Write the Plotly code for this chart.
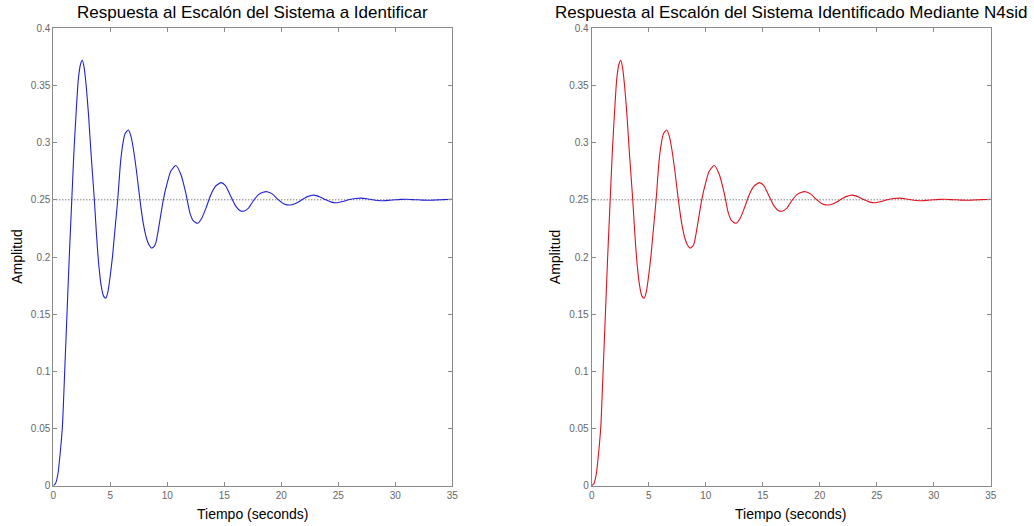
import plotly.graph_objects as go

# ---- data ----
tiempo = [0.0, 0.2, 0.4, 0.6, 0.8, 1.0, 1.2, 1.4, 1.6, 1.8, 2.0, 2.2, 2.4, 2.54, 2.7, 2.9,
          3.1, 3.3, 3.6, 3.8, 4.0, 4.2, 4.4, 4.6, 4.8, 5.0, 5.2, 5.4, 5.65, 5.9, 6.1, 6.3,
          6.58, 6.8, 7.0, 7.3, 7.6, 7.9, 8.2, 8.4, 8.63, 8.85, 9.0, 9.3, 9.65, 10.0, 10.3,
          10.75, 11.2, 11.6, 12.0, 12.3, 12.65, 13.0, 13.4, 13.8, 14.2, 14.7, 15.1, 15.5,
          16.0, 16.4, 16.75, 17.1, 17.5, 18.0, 18.4, 18.75, 19.2, 19.75, 20.3, 20.8, 21.3,
          21.8, 22.3, 22.85, 23.4, 23.9, 24.4, 24.9, 25.4, 25.9, 26.5, 27.0, 27.5, 28.0,
          28.5, 29.0, 29.5, 30.0, 30.5, 31.0, 31.5, 32.0, 32.5, 33.0, 33.5, 34.0, 34.5, 35.0]
amplitud = [0.0, 0.002, 0.01, 0.028, 0.052, 0.1, 0.15, 0.2, 0.245, 0.29, 0.326, 0.356,
            0.369, 0.372, 0.366, 0.348, 0.323, 0.292, 0.25, 0.218, 0.192, 0.175, 0.166,
            0.164, 0.17, 0.184, 0.201, 0.223, 0.25, 0.283, 0.299, 0.308, 0.311, 0.306,
            0.296, 0.275, 0.25, 0.229, 0.2155, 0.2105, 0.2078, 0.2092, 0.2125, 0.229, 0.25,
            0.265, 0.275, 0.28, 0.272, 0.257, 0.238, 0.2315, 0.2295, 0.2335, 0.243, 0.254,
            0.2615, 0.265, 0.2625, 0.2545, 0.2445, 0.2405, 0.2402, 0.2425, 0.2485, 0.2545,
            0.2566, 0.2571, 0.2552, 0.25, 0.2462, 0.2455, 0.247, 0.25, 0.2528, 0.2541,
            0.2525, 0.25, 0.248, 0.2475, 0.2485, 0.25, 0.2512, 0.2515, 0.251, 0.25, 0.2494,
            0.2492, 0.2496, 0.25, 0.2504, 0.2505, 0.2502, 0.25, 0.2497, 0.2496, 0.2499,
            0.25, 0.2503, 0.2504]
valor_final = [0.25, 0.25]
t_final = [0, 35]

titulos = ["Respuesta al Escalón del Sistema a Identificar",
           "Respuesta al Escalón del Sistema Identificado Mediante N4sid"]
colores = ["#2020d8", "#e0101e"]
x_ticks = [0, 5, 10, 15, 20, 25, 30, 35]
y_ticks = [0, 0.05, 0.1, 0.15, 0.2, 0.25, 0.3, 0.35, 0.4]
y_tick_text = ["0", "0.05", "0.1", "0.15", "0.2", "0.25", "0.3", "0.35", "0.4"]

W, H = 1034, 526
FONT = "Liberation Sans, Arial, sans-serif"

x_domains = [[53.3 / W, 452.3 / W], [591.7 / W, 990.7 / W]]
y_domain = [(H - 485.7) / H, (H - 28.3) / H]

fig = go.Figure()
annotations = []
for i in range(2):
    xa = "x" if i == 0 else "x2"
    ya = "y" if i == 0 else "y2"
    fig.add_trace(go.Scatter(x=t_final, y=valor_final, mode="lines",
                             line=dict(color="#444444", width=1, dash="1px,2px"),
                             xaxis=xa, yaxis=ya, showlegend=False, hoverinfo="skip"))
    fig.add_trace(go.Scatter(x=tiempo, y=amplitud, mode="lines",
                             line=dict(color=colores[i], width=1.1, shape="spline", smoothing=0.6),
                             xaxis=xa, yaxis=ya, showlegend=False))
    axis_common = dict(showgrid=False, zeroline=False, showline=True, linecolor="#8a8a8a",
                       linewidth=1, mirror="ticks", ticks="inside", ticklen=4,
                       automargin=False,
                       tickcolor="#8a8a8a", tickfont=dict(family=FONT, size=10, color="#666666"))
    fig.update_layout(**{
        ("xaxis" if i == 0 else "xaxis2"): dict(
            domain=x_domains[i], range=[0, 35], tickvals=x_ticks, anchor=ya, **axis_common),
        ("yaxis" if i == 0 else "yaxis2"): dict(
            domain=y_domain, range=[0, 0.4], tickvals=y_ticks, ticktext=y_tick_text,
            anchor=xa, **axis_common),
    })
    cx = (x_domains[i][0] + x_domains[i][1]) / 2
    annotations.append(dict(text=titulos[i], x=cx, y=1 - 12.5 / H, xref="paper", yref="paper",
                            xanchor="center", yanchor="middle", showarrow=False,
                            font=dict(family=FONT, size=17, color="black")))
    annotations.append(dict(text="Tiempo (seconds)", x=cx, y=1 - 513.5 / H, xref="paper",
                            yref="paper", xanchor="center", yanchor="middle", showarrow=False,
                            font=dict(family=FONT, size=14, color="black")))
    annotations.append(dict(text="Amplitud", x=(x_domains[i][0] * W - 36.5) / W, y=1 - 257 / H,
                            xref="paper", yref="paper", xanchor="center", yanchor="middle",
                            textangle=-90, showarrow=False,
                            font=dict(family=FONT, size=14, color="black")))

fig.update_layout(width=W, height=H, margin=dict(l=0, r=0, t=0, b=0, autoexpand=False),
                  paper_bgcolor="white", plot_bgcolor="white", annotations=annotations,
                  font=dict(family=FONT))
fig.write_html("out.html")
